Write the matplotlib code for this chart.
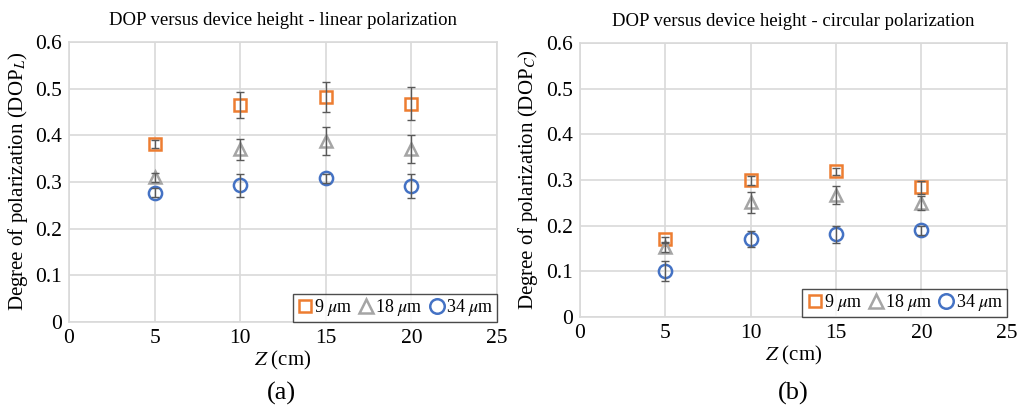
import matplotlib
matplotlib.use("Agg")
import matplotlib.pyplot as plt

plt.rcParams['font.family'] = ['Liberation Serif', 'DejaVu Serif']
plt.rcParams['mathtext.fontset'] = 'stix'

z = [5, 10, 15, 20]
labels = ['9 $\\mu$m', '18 $\\mu$m', '34 $\\mu$m']

# linear polarization
lin_9 = [0.381, 0.464, 0.482, 0.468]
lin_9_err = [0.008, 0.028, 0.032, 0.036]
lin_18 = [0.310, 0.370, 0.388, 0.370]
lin_18_err = [0.010, 0.022, 0.030, 0.030]
lin_34 = [0.277, 0.293, 0.308, 0.291]
lin_34_err = [0.010, 0.025, 0.010, 0.026]

# circular polarization
circ_9 = [0.170, 0.300, 0.319, 0.284]
circ_9_err = [0.006, 0.010, 0.008, 0.015]
circ_18 = [0.153, 0.251, 0.267, 0.250]
circ_18_err = [0.010, 0.024, 0.020, 0.015]
circ_34 = [0.100, 0.171, 0.181, 0.190]
circ_34_err = [0.022, 0.018, 0.019, 0.010]

colors = ['#ED7D31', '#A5A5A5', '#4472C4']
markers = ['s', '^', 'o']
msizes = [8, 9, 9.5]
grid_col = '#D9D9D9'

fig = plt.figure(figsize=(10.19, 4.07), dpi=100)
ax1 = fig.add_axes([0.0677, 0.209, 0.420, 0.688])
ax2 = fig.add_axes([0.569, 0.221, 0.419, 0.673])


def draw(ax, series, errs, title, ylab, tag, tag_x):
    for i in range(3):
        ax.errorbar(z, series[i], yerr=errs[i], fmt='none', ecolor='#595959',
                    elinewidth=1.0, capsize=3, capthick=1.0, zorder=4)
        ax.plot(z, series[i], linestyle='none', marker=markers[i], ms=msizes[i],
                mfc='none', mec=colors[i], mew=1.8, label=labels[i], zorder=3)
    ax.set_xlim(0, 25)
    ax.set_ylim(0, 0.6)
    ax.set_xticks([0, 5, 10, 15, 20, 25])
    ax.set_yticks([0, 0.1, 0.2, 0.3, 0.4, 0.5, 0.6])
    ax.set_yticklabels(['0', '0.1', '0.2', '0.3', '0.4', '0.5', '0.6'])
    ax.grid(True, color=grid_col, linewidth=1.2)
    ax.set_axisbelow(True)
    for s in ax.spines.values():
        s.set_color(grid_col)
        s.set_linewidth(1.2)
    ax.tick_params(length=0, labelsize=15.5, pad=5)
    ax.set_title(title, fontsize=13.5, pad=12)
    ax.set_ylabel(ylab, fontsize=15, labelpad=4)
    ax.set_xlabel('$Z$ (cm)', fontsize=15, labelpad=1)
    leg = ax.legend(loc='lower right', ncol=3, fontsize=13, frameon=True, fancybox=False,
                    borderaxespad=0, handletextpad=0.0, columnspacing=0.25,
                    handlelength=1.0, borderpad=0.2, markerscale=1.1)
    leg.get_frame().set_edgecolor('#222222')
    leg.get_frame().set_linewidth(1.0)
    fig.text(tag_x, 0.034, tag, ha='center', va='center', fontsize=19)


draw(ax1, [lin_9, lin_18, lin_34], [lin_9_err, lin_18_err, lin_34_err],
     'DOP versus device height - linear polarization', 'Degree of polarization (DOP$_L$)', '(a)', 0.276)
draw(ax2, [circ_9, circ_18, circ_34], [circ_9_err, circ_18_err, circ_34_err],
     'DOP versus device height - circular polarization', 'Degree of polarization (DOP$_C$)', '(b)', 0.778)

fig.savefig('out.png', dpi=100)
